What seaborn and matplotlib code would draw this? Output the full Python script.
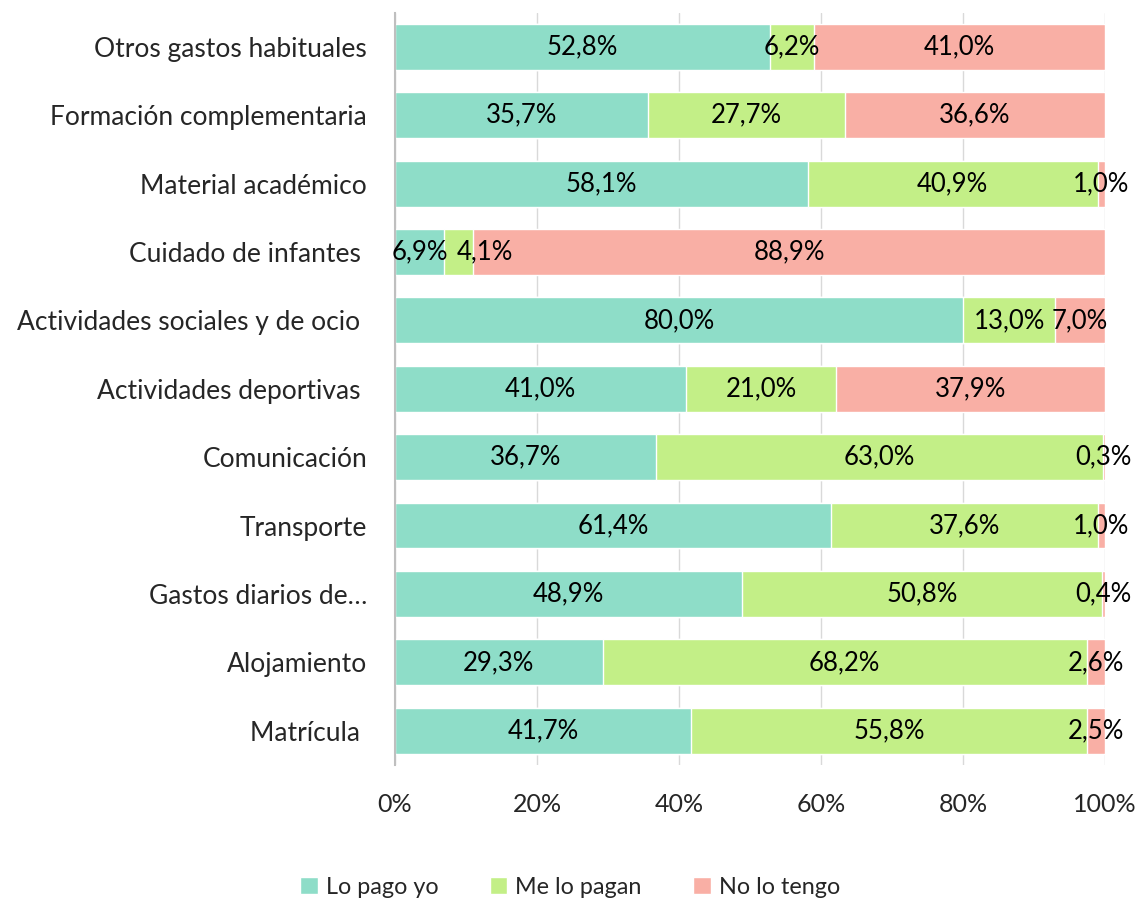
import numpy as np
import pandas as pd
import seaborn as sns
import matplotlib.pyplot as plt
from matplotlib.patches import Patch

# categorías, de arriba a abajo
categorias = ["Otros gastos habituales", "Formación complementaria", "Material académico",
              "Cuidado de infantes ", "Actividades sociales y de ocio ", "Actividades deportivas ",
              "Comunicación", "Transporte", "Gastos diarios de…", "Alojamiento", "Matrícula "]
lo_pago_yo = [52.8, 35.7, 58.1, 6.9, 80.0, 41.0, 36.7, 61.4, 48.9, 29.3, 41.7]
me_lo_pagan = [6.2, 27.7, 40.9, 4.1, 13.0, 21.0, 63.0, 37.6, 50.8, 68.2, 55.8]
no_lo_tengo = [41.0, 36.6, 1.0, 88.9, 7.0, 37.9, 0.3, 1.0, 0.4, 2.6, 2.5]
series = ["Lo pago yo", "Me lo pagan", "No lo tengo"]
colores = ["#8EDDC8", "#C3EF87", "#F9AFA5"]
ticks = [0, 20, 40, 60, 80, 100]

sns.set_style("white")
plt.rcParams['font.family'] = ['Lato', 'DejaVu Sans']

df = pd.DataFrame({"cat": categorias, "a": lo_pago_yo, "b": me_lo_pagan, "c": no_lo_tengo})
tot = df[["a", "b", "c"]].sum(axis=1)
# 100% apilado
df["pa"] = df["a"] / tot * 100
df["pb"] = df["b"] / tot * 100
df["pc"] = df["c"] / tot * 100
df["cum1"] = df["pa"]
df["cum2"] = df["pa"] + df["pb"]
df["cum3"] = df["cum2"] + df["pc"]

fig = plt.figure(figsize=(11.4, 9.02), dpi=100)
ax = fig.add_axes([0.3465, 0.152, 0.6228, 0.834])

for col, color in zip(["cum3", "cum2", "cum1"], colores[::-1]):
    sns.barplot(data=df, x=col, y="cat", color=color, width=0.67, saturation=1,
                orient="h", ax=ax, zorder=3)

ax.set_xlim(0, 100)
ax.set_ylim(len(categorias) - 0.5, -0.5)

# etiquetas de datos
etiquetas = []
for i, row in df.iterrows():
    starts = [0, row["cum1"], row["cum2"]]
    widths = [row["pa"], row["pb"], row["pc"]]
    vals = [row["a"], row["b"], row["c"]]
    fila = []
    for s, w, v in zip(starts, widths, vals):
        t = ax.text(s + w / 2, i, f"{v:.1f}%".replace(".", ","), ha="center", va="center",
                    fontsize=18.5, color="black", zorder=5)
        fila.append(t)
    etiquetas.append(fila)

# separar etiquetas que se pisan (como hace Excel)
fig.canvas.draw()
r = fig.canvas.get_renderer()
inv = ax.transData.inverted()
for fila in etiquetas:
    for k in range(1, len(fila)):
        prev = fila[k - 1].get_window_extent(r)
        cur = fila[k].get_window_extent(r)
        if cur.x0 < prev.x1 + 6 and fila[k].get_position()[0] < 50:
            shift = prev.x1 + 9 - cur.x0
            x_disp = ax.transData.transform(fila[k].get_position())
            fila[k].set_x(inv.transform((x_disp[0] + shift, x_disp[1]))[0])

ax.set_xticks(ticks)
ax.set_xticklabels([f"{t}%" for t in ticks], fontsize=18)
ax.tick_params(axis="y", labelsize=19, length=0, pad=20)
ax.tick_params(axis="x", length=0, pad=20)
ax.set_xlabel("")
ax.set_ylabel("")
ax.xaxis.grid(True, color="#D9D9D9", linewidth=1, zorder=0)
ax.set_axisbelow(True)
for s in ["top", "right", "bottom"]:
    ax.spines[s].set_visible(False)
ax.spines["left"].set_color("#BFBFBF")
ax.spines["left"].set_linewidth(1.5)
ax.spines["left"].set_zorder(4)

handles = [Patch(facecolor=c, label=s) for c, s in zip(colores, series)]
fig.legend(handles=handles, loc="center", bbox_to_anchor=(0.5, 0.016), ncol=3,
           frameon=False, fontsize=16.8, handlelength=0.75, handleheight=0.75,
           handletextpad=0.35, columnspacing=2.2)

fig.savefig("out.png", dpi=100)
